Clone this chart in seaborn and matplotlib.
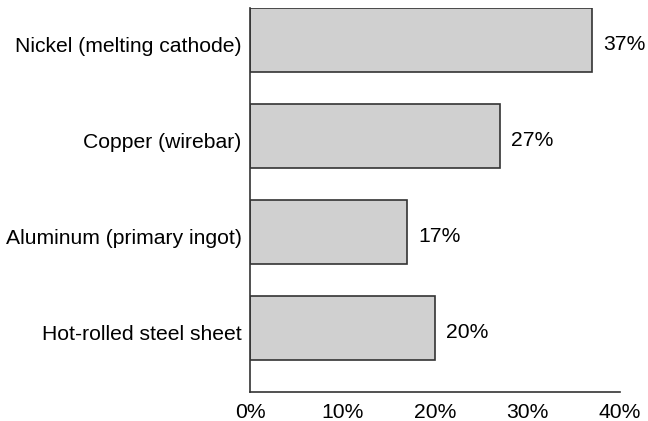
import matplotlib
matplotlib.use("Agg")
import matplotlib.pyplot as plt
import matplotlib.transforms as mtransforms
import seaborn as sns
import pandas as pd

# 数据
categories = ['Nickel (melting cathode)', 'Copper (wirebar)',
              'Aluminum (primary ingot)', 'Hot-rolled steel sheet']
values = [37, 27, 17, 20]
ticks = [0, 10, 20, 30, 40]
tick_labels = ['0%', '10%', '20%', '30%', '40%']

df = pd.DataFrame({'category': categories, 'value': values})

sns.set_style('white')
plt.rcParams['font.family'] = ['Liberation Sans', 'DejaVu Sans']
plt.rcParams['text.color'] = 'black'
plt.rcParams['xtick.color'] = 'black'
plt.rcParams['ytick.color'] = 'black'

fs = 15.2

fig = plt.figure(figsize=(6.48, 4.21), dpi=100)
ax = fig.add_axes([250 / 648, 29 / 421, 370 / 648, 384 / 421])

sns.barplot(data=df, x='value', y='category', color='#d0d0d0',
            edgecolor='#333333', linewidth=1.2, width=0.667, ax=ax,
            saturation=1)

for i, v in enumerate(values):
    ax.text(v + 1.2, i + 0.05, f'{v}%', va='center', ha='left', fontsize=fs)

ax.set_xlim(0, 40)
ax.set_ylim(3.667, -0.333)
ax.set_xticks(ticks)
ax.set_xticklabels(tick_labels, fontsize=fs)
ax.tick_params(axis='y', labelsize=fs, length=0, pad=6)
ax.tick_params(axis='x', length=0, pad=8)
ax.set_xlabel('')
ax.set_ylabel('')
for s in ['top', 'right']:
    ax.spines[s].set_visible(False)
for s in ['left', 'bottom']:
    ax.spines[s].set_color('#333333')
    ax.spines[s].set_linewidth(1.2)

# 标签稍微下移
offset = mtransforms.ScaledTranslation(0, -0.05, fig.dpi_scale_trans)
for lbl in ax.get_yticklabels():
    lbl.set_transform(lbl.get_transform() + offset)

fig.savefig('out.png', dpi=100)
